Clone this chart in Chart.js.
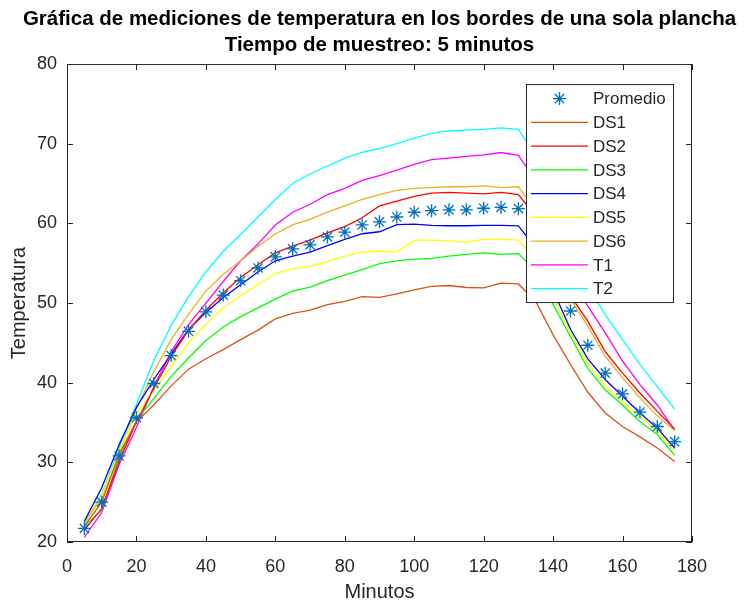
<!DOCTYPE html>
<html>
<head>
<meta charset="utf-8">
<script src="https://cdn.jsdelivr.net/npm/chart.js@4.4.1/dist/chart.umd.min.js"></script>
<style>
html,body{margin:0;padding:0;background:#fff;}
#wrap{width:744px;height:603px;position:relative;}
</style>
</head>
<body>
<div id="wrap"><canvas id="c"></canvas></div>
<script>
// ---- data ----
const minutos = [5,10,15,20,25,30,35,40,45,50,55,60,65,70,75,80,85,90,95,100,105,110,115,120,125,130,135,140,145,150,155,160,165,170,175];
const promedio = [21.7,25.0,30.8,35.6,39.9,43.4,46.45,48.9,51.0,52.8,54.4,55.8,56.8,57.3,58.3,58.9,59.8,60.2,60.8,61.4,61.6,61.7,61.7,61.9,62.0,61.85,59.1,53.9,49.0,44.7,41.2,38.6,36.3,34.5,32.6];
const ds1 = [22.0,25.0,31.0,35.1,37.2,39.6,41.7,43.0,44.15,45.4,46.6,48.0,48.7,49.1,49.8,50.2,50.8,50.7,51.15,51.65,52.1,52.2,51.95,51.9,52.5,52.4,50.2,46.0,42.3,38.8,36.2,34.5,33.2,31.8,30.1];
const ds2 = [21.5,24.2,30.1,35.1,39.3,43.3,46.6,49.1,51.3,53.2,54.8,56.3,57.15,57.9,58.8,59.6,60.7,62.2,62.8,63.4,63.8,63.9,63.8,63.7,63.9,63.6,60.9,55.7,50.9,47.7,43.9,41.2,38.7,36.4,34.2];
const ds3 = [22.0,24.0,30.6,35.3,38.0,40.8,43.1,45.3,47.0,48.3,49.4,50.5,51.5,52.0,52.8,53.5,54.2,54.95,55.3,55.5,55.6,55.9,56.1,56.3,56.1,56.2,54.0,49.8,45.8,41.8,39.1,37.2,35.1,33.5,30.9];
const ds4 = [22.6,26.8,32.2,36.9,40.4,43.6,46.7,48.8,50.7,52.3,53.9,55.3,55.9,56.4,57.2,58.0,58.7,58.95,59.85,59.9,59.75,59.7,59.7,59.75,59.75,59.7,56.9,51.6,46.7,43.0,40.4,38.3,36.2,34.3,31.8];
const ds5 = [22.8,25.8,31.4,36.2,39.0,42.0,45.0,47.3,49.4,50.9,52.3,53.7,54.3,54.6,55.2,55.9,56.4,56.5,56.4,57.9,57.9,57.8,57.65,58.0,58.0,57.9,55.4,50.7,46.25,42.5,39.5,37.65,35.8,33.9,31.4];
const ds6 = [22.5,25.5,31.2,36.7,41.4,45.4,48.6,51.5,53.6,55.3,57.1,58.7,59.8,60.5,61.4,62.2,63.0,63.6,64.15,64.4,64.5,64.6,64.6,64.7,64.5,64.6,61.6,55.9,50.5,47.1,43.3,40.6,38.1,35.8,34.0];
const t1 = [20.6,23.7,29.7,34.4,39.5,43.9,47.3,50.0,52.7,55.3,57.4,59.8,61.4,62.4,63.6,64.4,65.4,66.0,66.7,67.4,68.0,68.2,68.4,68.6,68.9,68.55,65.4,59.3,53.3,49.6,46.25,42.7,39.75,37.2,34.0];
const t2 = [22.3,26.0,31.8,37.3,42.8,47.2,50.8,53.9,56.5,58.6,60.8,63.0,65.0,66.2,67.2,68.2,68.9,69.4,70.0,70.7,71.3,71.6,71.7,71.8,72.0,71.8,68.5,62.0,56.2,52.0,48.55,45.4,42.3,39.5,36.7];
const seriesNames = ['Promedio','DS1','DS2','DS3','DS4','DS5','DS6','T1','T2'];
const xTicks = [0,20,40,60,80,100,120,140,160,180];
const yTicks = [20,30,40,50,60,70,80];
const titleLines = ['Gráfica de mediciones de temperatura en los bordes de una sola plancha','Tiempo de muestreo: 5 minutos'];
const xTitle = 'Minutos';
const yTitle = 'Temperatura';

// ---- styles ----
const lineColors = ['#D95319','#FF0000','#00FF00','#0000FF','#FFFF00','#EDB120','#FF00FF','#00FFFF'];
const starColor = '#0072BD';
const axisColor = '#262626';
const FONT = "'Liberation Sans', Arial, Helvetica, sans-serif";

const pts = arr => minutos.map((m, i) => ({x: m, y: arr[i]}));
const lineSeries = [ds1, ds2, ds3, ds4, ds5, ds6, t1, t2];

const datasets = [{
  label: seriesNames[0],
  data: pts(promedio),
  showLine: false,
  pointStyle: 'star',
  pointRadius: 6.5,
  pointBorderWidth: 1.3,
  borderColor: starColor,
  backgroundColor: starColor,
  pointHoverRadius: 6.5
}].concat(lineSeries.map((s, i) => ({
  label: seriesNames[i + 1],
  data: pts(s),
  showLine: true,
  borderColor: lineColors[i],
  backgroundColor: lineColors[i],
  borderWidth: 1.3,
  pointRadius: 0,
  pointHoverRadius: 0,
  tension: 0,
  fill: false
})));

function drawStar(ctx, cx, cy, r) {
  ctx.beginPath();
  ctx.moveTo(cx - r, cy); ctx.lineTo(cx + r, cy);
  ctx.moveTo(cx, cy - r); ctx.lineTo(cx, cy + r);
  const d = r * Math.SQRT1_2;
  ctx.moveTo(cx - d, cy - d); ctx.lineTo(cx + d, cy + d);
  ctx.moveTo(cx - d, cy + d); ctx.lineTo(cx + d, cy - d);
  ctx.stroke();
}

const boxTicks = {
  id: 'boxTicks',
  afterDatasetsDraw(chart) {
    const {ctx, chartArea: a, scales} = chart;
    const L = 6;
    ctx.save();
    ctx.strokeStyle = axisColor;
    ctx.lineWidth = 1;
    ctx.strokeRect(a.left + 0.5, a.top + 0.5, a.right - a.left - 1, a.bottom - a.top - 1);
    ctx.beginPath();
    scales.x.ticks.forEach(t => {
      const px = Math.round(scales.x.getPixelForValue(t.value)) + 0.5;
      ctx.moveTo(px, a.bottom); ctx.lineTo(px, a.bottom - L);
      ctx.moveTo(px, a.top); ctx.lineTo(px, a.top + L);
    });
    scales.y.ticks.forEach(t => {
      const py = Math.round(scales.y.getPixelForValue(t.value)) + 0.5;
      ctx.moveTo(a.left, py); ctx.lineTo(a.left + L, py);
      ctx.moveTo(a.right, py); ctx.lineTo(a.right - L, py);
    });
    ctx.stroke();
    ctx.restore();
  }
};

const boxLegend = {
  id: 'boxLegend',
  afterDraw(chart) {
    const {ctx, chartArea: a} = chart;
    const w = 147, h = 218;
    const left = a.right - 166, top = a.top + 20;
    ctx.save();
    ctx.fillStyle = '#fff';
    ctx.fillRect(left, top, w, h);
    ctx.strokeStyle = axisColor;
    ctx.lineWidth = 1;
    ctx.strokeRect(left + 0.5, top + 0.5, w, h);
    ctx.font = '17px ' + FONT;
    ctx.textBaseline = 'middle';
    ctx.textAlign = 'left';
    chart.data.datasets.forEach((ds, i) => {
      const y = top + 14.5 + i * 23.75;
      const x0 = left + 5, x1 = left + 62;
      ctx.strokeStyle = ds.borderColor;
      ctx.lineWidth = 1.3;
      if (ds.showLine === false) {
        drawStar(ctx, (x0 + x1) / 2, y, 6.5);
      } else {
        ctx.beginPath(); ctx.moveTo(x0, y); ctx.lineTo(x1, y); ctx.stroke();
      }
      ctx.fillStyle = axisColor;
      ctx.fillText(ds.label, left + 67, y + 1);
    });
    ctx.restore();
  }
};

new Chart(document.getElementById('c'), {
  type: 'scatter',
  data: {datasets},
  options: {
    responsive: true,
    maintainAspectRatio: false,
    animation: false,
    events: [],
    layout: {padding: {top: 0, right: 0, bottom: 0, left: 15}},
    plugins: {
      legend: {display: false},
      tooltip: {enabled: false},
      title: {
        display: true,
        fullSize: true,
        text: titleLines,
        color: '#000',
        font: {family: FONT, size: 20.5, weight: 'bold', lineHeight: 1.27},
        padding: {top: 6, bottom: 6}
      }
    },
    scales: {
      x: {
        type: 'linear',
        min: 0, max: 180,
        afterBuildTicks: s => { s.ticks = xTicks.map(v => ({value: v})); },
        afterFit: s => { s.height = 61; },
        grid: {display: false},
        border: {display: false},
        ticks: {color: axisColor, font: {family: FONT, size: 18}, padding: 6, maxRotation: 0},
        title: {display: true, text: xTitle, color: axisColor, font: {family: FONT, size: 20, lineHeight: 1.2}, padding: {top: 0, bottom: -1}}
      },
      y: {
        type: 'linear',
        min: 20, max: 80,
        afterBuildTicks: s => { s.ticks = yTicks.map(v => ({value: v})); },
        afterFit: s => { s.width = 52; },
        grid: {display: false},
        border: {display: false},
        ticks: {color: axisColor, font: {family: FONT, size: 18}, padding: 2},
        title: {display: true, text: yTitle, color: axisColor, font: {family: FONT, size: 20, lineHeight: 1.2}, padding: {top: -8, bottom: 0}}
      },
      yRight: {
        type: 'linear',
        position: 'right',
        min: 20, max: 80,
        afterFit: s => { s.width = 52; },
        grid: {display: false},
        border: {display: false},
        ticks: {display: false},
        title: {display: false}
      }
    }
  },
  plugins: [boxTicks, boxLegend]
});
</script>
</body>
</html>
